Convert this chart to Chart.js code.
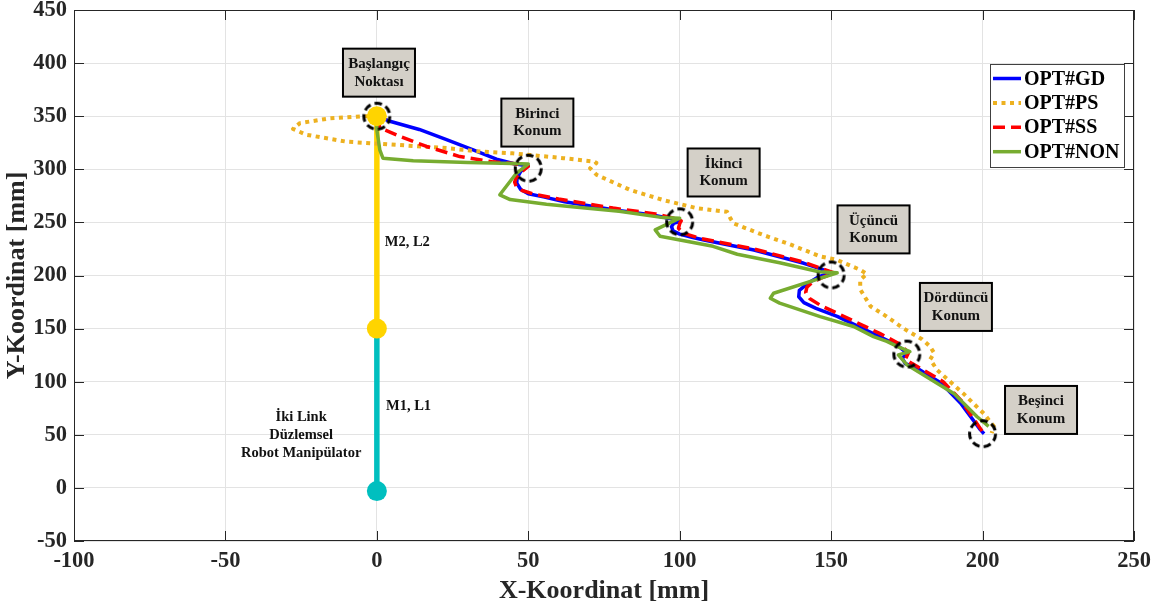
<!DOCTYPE html>
<html>
<head>
<meta charset="utf-8">
<title>İki Link Düzlemsel Robot Manipülator</title>
<script src="https://cdn.jsdelivr.net/npm/chart.js@4.4.1/dist/chart.umd.min.js"></script>
<style>
  html, body { margin: 0; padding: 0; background: #fff; }
  #trajChart { display: block; }
</style>
</head>
<body>
<canvas id="trajChart" width="1168" height="610"></canvas>
<script>
// ── Trajectories (mm) ─────────────────────────────
const gdX = [0, 4, 14, 23, 32, 39.5, 45, 50, 47.5, 46.3, 46.2, 47.5, 50, 55, 62, 78, 91, 98, 100, 98, 97.3, 97.8, 100, 104, 108, 124.5, 141, 150, 146, 142.5, 139.5, 139.3, 141, 145, 152, 166, 172, 175, 173.5, 174.5, 177.6, 186.4, 192.7, 199.3, 200.5];
const gdY = [350, 345.5, 337.5, 328, 318, 309.5, 305.5, 303, 298, 292, 287, 281, 277, 274, 269.5, 262, 257, 253, 251, 249, 246, 242, 239, 236, 233.5, 224, 211.5, 203, 199, 193, 186, 180, 174.5, 169, 161.5, 142.5, 134, 127, 122, 117, 114, 98.6, 80, 54.6, 51];

const psX = [0, -4.5, -15.5, -25.4, -27.7, -23.2, -10, 6.5, 23, 34, 45, 50.6, 61.6, 71.5, 72.5, 70.4, 72.6, 83.6, 94.6, 105.7, 115.6, 116.7, 117.8, 127.7, 135.4, 146.4, 151.9, 159.6, 161.8, 159.6, 159.6, 163, 168, 174, 180, 182.7, 184, 182.7, 185, 193.6, 200.4, 203.7, 203];
const psY = [350, 350, 348, 343.5, 338, 332.5, 326, 323, 320, 316.7, 315, 313.5, 310.5, 307.3, 306, 301, 294.7, 280.6, 271, 263.4, 260, 254, 249, 238, 230.4, 218, 214.7, 205.3, 201.5, 196, 187, 171, 162, 150, 140, 133, 127, 121, 111, 89, 70, 58, 51.5];

const ssX = [0, 1, 7.6, 16.4, 27.4, 38.4, 45, 50, 47.5, 46, 45.5, 46, 48, 52, 60, 78, 92, 98, 100.5, 100, 99.6, 101.2, 106.7, 124.5, 141, 151, 147, 144, 142, 141.6, 143, 147, 152, 166, 173, 175.5, 174.5, 178, 187, 193, 199, 200.5];
const ssY = [350, 339, 331, 321.5, 312, 307, 305.5, 303, 297, 292, 288, 284, 280, 276.5, 272, 263.5, 258, 254, 251.5, 249, 244.5, 239.8, 235, 225, 212.5, 202.5, 198, 194, 189, 184, 178, 171, 164.5, 145.5, 135, 127, 121, 115, 100, 82, 57, 51];

const nonX = [0, 0, 1, 2, 12, 30, 45, 50, 46, 40.6, 44, 56, 67, 80, 94.5, 100, 91.9, 93.5, 111, 119, 133, 146, 152, 131, 129.9, 133, 146.4, 157.4, 164, 168.4, 172, 176, 172.2, 175, 190.5, 198.2, 202];
const nonY = [350, 337, 318, 310.5, 308, 306.5, 305.5, 305, 296, 276, 271.5, 267, 264, 260.5, 254.5, 254, 243, 237, 227.5, 220, 212, 203.5, 202.5, 183.3, 178.6, 174, 161.3, 152, 142.5, 138, 133, 128.3, 125.2, 116, 89, 67, 58];

// ── Manipulator links, joints and target positions ─
const link1X = [0, 0];
const link1Y = [-3, 150];
const link2X = [0, 0];
const link2Y = [150, 350];
const jointX = [0, 0, 0];
const jointY = [-3, 150, 350];
const targetX = [0, 50, 100, 150, 175, 200];
const targetY = [350, 301, 250.5, 200.5, 126, 51];

// ── Axis ticks ─────────────────────────────────────
const xTicks = [-100, -50, 0, 50, 100, 150, 200, 250];
const yTicks = [-50, 0, 50, 100, 150, 200, 250, 300, 350, 400, 450];

// ── Labels ─────────────────────────────────────────
const boxLabels = [['Başlangıç', 'Noktası'], ['Birinci', 'Konum'], ['İkinci', 'Konum'], ['Üçüncü', 'Konum'], ['Dördüncü', 'Konum'], ['Beşinci', 'Konum']];
const boxX = [0.7, 53, 114.5, 164, 191.2, 219.3];
const boxY = [391, 344, 297, 243.4, 170.4, 73.4];

const SERIF = "'Liberation Serif', 'Times New Roman', serif";
Chart.defaults.font.family = SERIF;

const pts = (xs, ys) => xs.map((x, i) => ({ x, y: ys[i] }));

function ringImage(r, width, dash, color) {
  const c = document.createElement('canvas');
  const s = Math.ceil(2 * r + width + 4);
  c.width = c.height = s;
  const g = c.getContext('2d');
  g.strokeStyle = color;
  g.lineWidth = width;
  g.setLineDash(dash);
  g.beginPath();
  g.arc(s / 2, s / 2, r, 0, Math.PI * 2);
  g.stroke();
  return c;
}

function line(label, xs, ys, color, width, dash, order) {
  return {
    label, data: pts(xs, ys), showLine: true,
    borderColor: color, backgroundColor: color, borderWidth: width,
    borderDash: dash, borderCapStyle: 'butt', borderJoinStyle: 'round',
    pointRadius: 0, order, legend: true
  };
}

const datasets = [
  line('OPT#GD', gdX, gdY, '#0000ff', 3.5, [], 4),
  line('OPT#PS', psX, psY, '#edb120', 4, [4, 4.5], 3),
  line('OPT#SS', ssX, ssY, '#ff0000', 3.5, [12, 6], 2),
  line('OPT#NON', nonX, nonY, '#77ac30', 3.5, [], 1),
  { data: pts(link1X, link1Y), showLine: true, borderColor: '#00bfbf', borderWidth: 5.5, pointRadius: 0, order: 6 },
  { data: pts(link2X, link2Y), showLine: true, borderColor: '#ffd400', borderWidth: 5.5, pointRadius: 0, order: 5 },
  {
    data: pts(jointX, jointY), pointRadius: 10, pointBorderWidth: 0,
    pointBackgroundColor: ['#00bfbf', '#ffd400', '#ffd400'], order: 0
  },
  {
    data: pts(targetX, targetY), pointStyle: ringImage(13, 3, [7.5, 4.2], '#000'),
    pointRadius: 14, order: -1
  }
];

/* ─────────────────────────────────────────────
 * Text boxes, link labels, frame, legend, titles
 * ───────────────────────────────────────────── */
const decorations = {
  id: 'decorations',
  afterDatasetsDraw(chart) {
    const { ctx, scales: { x, y } } = chart;
    ctx.save();
    ctx.font = `bold 15px ${SERIF}`;
    ctx.textAlign = 'center';
    ctx.textBaseline = 'middle';
    boxLabels.forEach((lines, i) => {
      const cx = x.getPixelForValue(boxX[i]);
      const cy = y.getPixelForValue(boxY[i]);
      const w = 72, h = 48;
      ctx.fillStyle = '#d4d0c8';
      ctx.fillRect(cx - w / 2, cy - h / 2, w, h);
      ctx.strokeStyle = '#000';
      ctx.lineWidth = 2;
      ctx.strokeRect(cx - w / 2, cy - h / 2, w, h);
      ctx.fillStyle = '#111';
      ctx.fillText(lines[0], cx, cy - 8.5);
      ctx.fillText(lines[1], cx, cy + 9);
    });

    ctx.font = `bold 14.5px ${SERIF}`;
    ctx.textAlign = 'left';
    ctx.fillText('M2, L2', x.getPixelForValue(2.6), y.getPixelForValue(231));
    ctx.fillText('M1, L1', x.getPixelForValue(3), y.getPixelForValue(76.5));
    ctx.textAlign = 'center';
    const cx = x.getPixelForValue(-25);
    ['İki Link', 'Düzlemsel', 'Robot Manipülator'].forEach((t, i) => {
      ctx.fillText(t, cx, y.getPixelForValue(50) + (i - 1) * 18);
    });
    ctx.restore();
  },
  afterDraw(chart) {
    const { ctx, chartArea: a, scales: { x, y } } = chart;
    ctx.save();
    // box + inward ticks
    ctx.strokeStyle = '#262626';
    ctx.lineWidth = 1;
    ctx.strokeRect(a.left + 0.5, a.top + 0.5, a.width - 1, a.height - 1);
    ctx.beginPath();
    xTicks.forEach(v => {
      const px = Math.round(x.getPixelForValue(v)) + 0.5;
      ctx.moveTo(px, a.bottom); ctx.lineTo(px, a.bottom - 10);
      ctx.moveTo(px, a.top); ctx.lineTo(px, a.top + 10);
    });
    yTicks.forEach(v => {
      const py = Math.round(y.getPixelForValue(v)) + 0.5;
      ctx.moveTo(a.left, py); ctx.lineTo(a.left + 10, py);
      ctx.moveTo(a.right, py); ctx.lineTo(a.right - 10, py);
    });
    ctx.stroke();

    // axis titles
    ctx.fillStyle = '#262626';
    ctx.font = `bold 26px ${SERIF}`;
    ctx.textAlign = 'center';
    ctx.textBaseline = 'middle';
    ctx.fillText('X-Koordinat [mm]', (a.left + a.right) / 2, a.bottom + 50);
    ctx.save();
    ctx.translate(a.left - 57, (a.top + a.bottom) / 2);
    ctx.rotate(-Math.PI / 2);
    ctx.fillText('Y-Koordinat [mm]', 0, 0);
    ctx.restore();

    // legend
    const items = chart.data.datasets.filter(d => d.legend);
    const lx = a.right - 144, ly = a.top + 54, lw = 134, lh = 103;
    ctx.fillStyle = '#fff';
    ctx.fillRect(lx, ly, lw, lh);
    ctx.strokeStyle = '#404040';
    ctx.lineWidth = 1;
    ctx.strokeRect(lx + 0.5, ly + 0.5, lw, lh);
    ctx.font = `bold 20px ${SERIF}`;
    ctx.textAlign = 'left';
    items.forEach((d, i) => {
      const ry = ly + 14.5 + i * 24.4;
      ctx.strokeStyle = d.borderColor;
      ctx.lineWidth = d.borderWidth;
      ctx.lineCap = 'butt';
      ctx.setLineDash(d.borderDash);
      ctx.beginPath();
      ctx.moveTo(lx + 3, ry); ctx.lineTo(lx + 31, ry);
      ctx.stroke();
      ctx.setLineDash([]);
      ctx.fillStyle = '#000';
      ctx.fillText(d.label, lx + 34, ry + 1);
    });
    ctx.restore();
  }
};

const tickFont = { size: 22.5, weight: 'bold', lineHeight: 1 };

new Chart(document.getElementById('trajChart'), {
  type: 'scatter',
  data: { datasets },
  options: {
    responsive: false,
    animation: false,
    events: [],
    layout: { autoPadding: false, padding: { top: 10, right: 34, left: 0, bottom: 0 } },
    plugins: { legend: { display: false }, tooltip: { enabled: false } },
    scales: {
      x: {
        type: 'linear', min: -100, max: 250,
        afterFit: s => { s.height = 69; s.paddingLeft = 0; s.paddingRight = 0; },
        afterBuildTicks: s => { s.ticks = xTicks.map(value => ({ value })); },
        grid: { color: '#e3e3e3', drawTicks: false },
        border: { display: false },
        ticks: { padding: 9, color: '#262626', font: tickFont }
      },
      y: {
        type: 'linear', min: -50, max: 450,
        afterFit: s => { s.width = 74; s.paddingTop = 0; s.paddingBottom = 0; },
        afterBuildTicks: s => { s.ticks = yTicks.map(value => ({ value })); },
        grid: { color: '#e3e3e3', drawTicks: false },
        border: { display: false },
        ticks: { padding: 7, color: '#262626', font: tickFont }
      }
    }
  },
  plugins: [decorations]
});
</script>
</body>
</html>
